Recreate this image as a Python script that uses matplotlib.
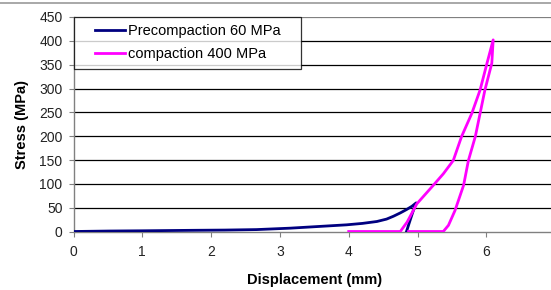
import matplotlib
matplotlib.use("Agg")
import numpy as np
import matplotlib.pyplot as plt
from matplotlib.lines import Line2D
from matplotlib.legend_handler import HandlerLine2D

plt.rcParams['font.family'] = ['Liberation Sans', 'DejaVu Sans']

# Precompaction 60 MPa (loading then unloading)
pre_x = [0.0, 0.53, 1.0, 1.74, 2.2, 2.66, 3.15, 3.5, 3.97, 4.2, 4.41, 4.55, 4.65, 4.75, 4.84, 4.92, 4.98, 4.93, 4.88, 4.84]
pre_y = [0.0, 1.0, 1.5, 2.5, 3.0, 4.0, 7.0, 10.0, 14.0, 17.0, 21.0, 26.0, 32.0, 39.0, 46.0, 53.0, 60.0, 40.0, 18.0, 0.0]

# Compaction 400 MPa (loading then unloading)
com_x = [4.0, 4.75, 4.85, 4.99, 5.23, 5.375, 5.52, 5.64, 5.79, 5.91, 6.01, 6.1,
         6.08, 5.98, 5.91, 5.84, 5.74, 5.67, 5.545, 5.45, 5.375, 4.87]
com_y = [0.0, 0.0, 20.0, 58.0, 97.0, 121.0, 149.0, 199.0, 248.0, 297.0, 353.0, 402.0,
         353.0, 297.0, 248.0, 199.0, 149.0, 97.0, 44.0, 13.0, 0.0, 0.0]

x_ticks = [0, 1, 2, 3, 4, 5, 6]
y_ticks = [0, 50, 100, 150, 200, 250, 300, 350, 400, 450]


class RightLine(HandlerLine2D):
    """Legend handle drawn only on the right part of the handle box."""
    def get_xdata(self, legend, xdescent, ydescent, width, height, fontsize):
        seg = 30 * 72 / 100  # ~30 px in points
        xd = np.array([-xdescent + width - seg, -xdescent + width])
        return xd, xd


fig = plt.figure(figsize=(5.51, 2.90), dpi=100)
ax_left, ax_bottom = 73.5 / 551, (290 - 231.5) / 290
ax_w, ax_h = (7 * 68.8) / 551, (231.5 - 17) / 290
ax = fig.add_axes([ax_left, ax_bottom, ax_w, ax_h])

l1, = ax.plot(pre_x, pre_y, color='#000080', lw=2.0, label='Precompaction 60 MPa', zorder=3)
l2, = ax.plot(com_x, com_y, color='#ff00ff', lw=2.0, label='compaction 400 MPa', zorder=3)

ax.set_xlim(0, 7)
ax.set_ylim(0, 450)
ax.set_xticks(x_ticks)
ax.set_yticks(y_ticks)
ax.tick_params(axis='both', labelsize=10, labelcolor='#222222', direction='out',
               length=3.6, width=0.8, color='#808080')
ax.tick_params(axis='y', pad=4.3)
ax.tick_params(axis='x', pad=6)

for yv in y_ticks[1:]:
    ax.axhline(yv, color='black' if yv < 450 else '#808080', lw=0.9, zorder=1)

for side in ['top', 'right']:
    ax.spines[side].set_visible(False)
for side in ['left', 'bottom']:
    ax.spines[side].set_color('#808080')
    ax.spines[side].set_linewidth(1.0)

ax.set_xlabel('Displacement (mm)', fontsize=10.5, fontweight='bold', labelpad=10)
ax.set_ylabel('Stress (MPa)', fontsize=10.5, fontweight='bold', labelpad=7)

ax_px_w = 7 * 68.8
ax_px_h = 231.5 - 17
leg = ax.legend(handles=[l1, l2], loc='upper left',
                bbox_to_anchor=((74 - 73.5) / ax_px_w, (231.5 - 17) / ax_px_h,
                                (300.5 - 74) / ax_px_w, 0.0),
                mode='expand', frameon=True, fancybox=False,
                edgecolor='black', fontsize=10.5, handlelength=3.0, handletextpad=0.2,
                borderpad=0.5, labelspacing=0.62, borderaxespad=0.0,
                handler_map={Line2D: RightLine()})
leg.get_frame().set_linewidth(0.9)
leg.set_zorder(5)

fig.add_artist(Line2D([0, 1], [1 - 3 / 290, 1 - 3 / 290], color='#999999', lw=1.2,
                      transform=fig.transFigure))

fig.savefig('out.png', dpi=100)
